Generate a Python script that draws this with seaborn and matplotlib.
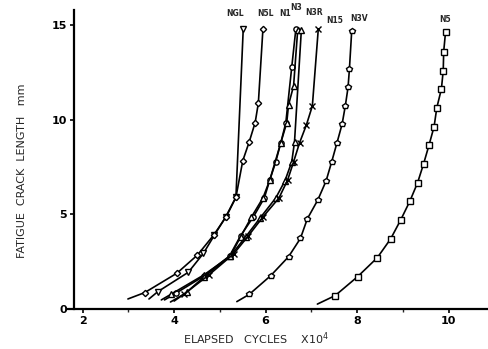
import matplotlib
matplotlib.use('Agg')
import matplotlib.pyplot as plt
import seaborn as sns
import numpy as np
import pandas as pd
from matplotlib.ticker import MultipleLocator

# elapsed cycles (x10^4) and fatigue crack length (mm)
# first point of every series is the start of the line (no marker)
ngl_cycles = [3.45, 3.64, 4.31, 4.64, 4.88, 5.13, 5.35, 5.51]
ngl_length = [0.53, 0.91, 1.94, 2.94, 3.90, 4.88, 5.90, 14.8]

n5l_cycles = [2.99, 3.36, 4.06, 4.51, 4.86, 5.14, 5.35, 5.50, 5.64, 5.77, 5.84, 5.94]
n5l_length = [0.53, 0.87, 1.89, 2.85, 3.89, 4.88, 5.90, 7.83, 8.82, 9.84, 10.87, 14.78]

n1_cycles = [3.79, 4.05, 4.65, 5.21, 5.45, 5.73, 5.97, 6.09, 6.22, 6.33, 6.44, 6.57, 6.66]
n1_length = [0.48, 0.85, 1.74, 2.80, 3.86, 4.86, 5.86, 6.81, 7.77, 8.77, 9.83, 12.78, 14.79]

n3_cycles = [3.72, 3.94, 4.65, 5.23, 5.45, 5.69, 5.94, 6.09, 6.33, 6.46, 6.50, 6.61, 6.70]
n3_length = [0.48, 0.79, 1.80, 2.80, 3.80, 4.86, 5.86, 6.81, 8.77, 9.83, 10.78, 11.78, 14.74]

n3r_cycles = [4.00, 4.28, 4.65, 5.23, 5.56, 5.88, 6.22, 6.42, 6.57, 6.63, 6.78]
n3r_length = [0.42, 0.90, 1.69, 2.80, 3.80, 4.81, 5.86, 6.76, 7.77, 8.82, 14.74]

n15_cycles = [3.92, 4.22, 4.76, 5.30, 5.62, 5.94, 6.29, 6.48, 6.61, 6.74, 6.89, 7.02, 7.15]
n15_length = [0.37, 0.79, 1.80, 2.91, 3.86, 4.86, 5.86, 6.81, 7.77, 8.77, 9.72, 10.72, 14.79]

n3v_cycles = [5.37, 5.64, 6.11, 6.50, 6.76, 6.91, 7.14, 7.32, 7.44, 7.56, 7.67, 7.74, 7.80, 7.83, 7.88]
n3v_length = [0.39, 0.77, 1.76, 2.76, 3.73, 4.76, 5.76, 6.76, 7.75, 8.79, 9.76, 10.72, 11.70, 12.67, 14.68]

n5_cycles = [7.13, 7.52, 8.01, 8.44, 8.73, 8.95, 9.15, 9.32, 9.45, 9.57, 9.68, 9.74, 9.84, 9.88, 9.89, 9.93]
n5_length = [0.26, 0.71, 1.71, 2.71, 3.70, 4.70, 5.69, 6.67, 7.66, 8.66, 9.63, 10.63, 11.62, 12.59, 13.59, 14.62]

specimens = ['NGL', 'N5L', 'N1', 'N3', 'N3R', 'N15', 'N3V', 'N5']
cycles = [ngl_cycles, n5l_cycles, n1_cycles, n3_cycles, n3r_cycles, n15_cycles, n3v_cycles, n5_cycles]
lengths = [ngl_length, n5l_length, n1_length, n3_length, n3r_length, n15_length, n3v_length, n5_length]

markers = {'NGL': 'v', 'N5L': 'D', 'N1': 'o', 'N3': '^', 'N3R': '^',
           'N15': 'x', 'N3V': 'p', 'N5': 's'}
# label offsets from the last point, in points
label_offsets = {'NGL': (-6, 8), 'N5L': (2, 8), 'N1': (-8, 8), 'N3': (-1, 13),
                 'N3R': (9, 9), 'N15': (12, 3), 'N3V': (5, 6), 'N5': (0, 6)}

sns.set_style('white')
plt.rcParams['font.family'] = ['DejaVu Sans']

fig = plt.figure(figsize=(4.89, 3.49), dpi=100)
ax = fig.add_axes([0.139, 0.1146, 0.861, 0.857])

for name, xs, ys in zip(specimens, cycles, lengths):
    df = pd.DataFrame({'cycles': xs, 'length': ys})
    sns.lineplot(data=df, x='cycles', y='length', ax=ax, sort=False, estimator=None,
                 color='black', lw=1.2, marker=markers[name], markevery=slice(1, None),
                 markersize=3.8 if markers[name] != 'D' else 3.2,
                 markerfacecolor='white', markeredgecolor='black', markeredgewidth=1.0)
    dx, dy = label_offsets[name]
    ax.annotate(name, (xs[-1], ys[-1]), xytext=(dx, dy), textcoords='offset points',
                ha='center', va='bottom', fontsize=5.5, fontweight='bold')

ax.set_xlim(1.68, 10.88)
ax.set_ylim(0, 15.79)
ax.spines['left'].set_position(('data', 1.806))
for s in ['top', 'right']:
    ax.spines[s].set_visible(False)
for s in ['left', 'bottom']:
    ax.spines[s].set_linewidth(1.6)
    ax.spines[s].set_color('black')

ax.set_xticks([2, 4, 6, 8, 10])
ax.set_yticks([0, 5, 10, 15])
ax.xaxis.set_minor_locator(MultipleLocator(1))
ax.tick_params(axis='both', which='major', direction='out', length=3, width=1.2,
               labelsize=8, pad=2, colors='black')
ax.tick_params(axis='x', which='minor', direction='out', length=2, width=1, bottom=True)
ax.tick_params(left=True, bottom=True)
for lab in ax.get_xticklabels() + ax.get_yticklabels():
    lab.set_fontweight('bold')

ax.set_xlabel('')
ax.set_ylabel('')
fig.text(22 / 489, 1 - 171 / 349, 'FATIGUE  CRACK  LENGTH   mm', rotation=90,
         ha='center', va='center', fontsize=8)
fig.text(256 / 489, 1 - 339 / 349, 'ELAPSED   CYCLES    X10$^4$',
         ha='center', va='center', fontsize=8)

fig.savefig('out.png', dpi=100)
